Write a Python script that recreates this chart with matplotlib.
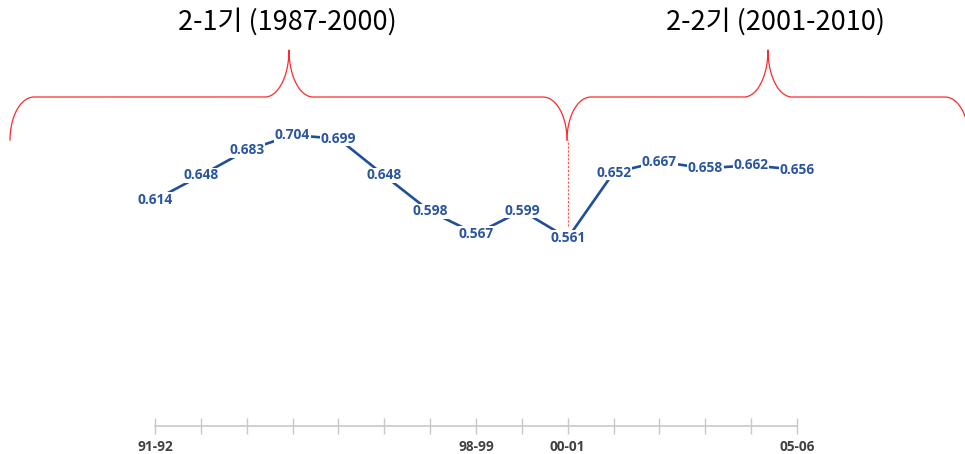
import numpy as np
import matplotlib
matplotlib.use("Agg")
import matplotlib.pyplot as plt

# ---- data ----
periods = ["91-92", "92-93", "93-94", "94-95", "95-96", "96-97", "97-98", "98-99",
           "99-00", "00-01", "01-02", "02-03", "03-04", "04-05", "05-06"]
values = [0.614, 0.648, 0.683, 0.704, 0.699, 0.648, 0.598, 0.567, 0.599, 0.561,
          0.652, 0.667, 0.658, 0.662, 0.656]
shown_ticklabels = {"91-92", "98-99", "00-01", "05-06"}
phase_labels = ["2-1기 (1987-2000)", "2-2기 (2001-2010)"]
split_period = "00-01"

W, H = 965, 454
fig = plt.figure(figsize=(W / 100, H / 100), dpi=100)

# overlay in pixel coords for braces
ov = fig.add_axes([0, 0, 1, 1])
ov.set_xlim(0, W)
ov.set_ylim(H, 0)
ov.axis("off")

# main axes: index 0 at px 155, index 14 at px 797; y 0.3 at px 426, 720 px/unit
x_left, x_right = 155, 797
y_bot_px = 426
ymin, ymax = 0.3, 0.72
y_top_px = y_bot_px - (ymax - ymin) * 720
ax = fig.add_axes([x_left / W, (H - y_bot_px) / H, (x_right - x_left) / W,
                   (y_bot_px - y_top_px) / H])
ax.patch.set_alpha(0)
ax.set_xlim(0, len(periods) - 1)
ax.set_ylim(ymin, ymax)

x = np.arange(len(periods))
blue = "#1F4E9B"
ax.plot(x, values, color=blue, lw=1.9, solid_capstyle="round", zorder=2, clip_on=False)
for xi, v in zip(x, values):
    ax.text(xi, v, f"{v:.3f}", ha="center", va="center", fontsize=9.9,
            fontweight="bold", color="#2A55A0", family="Open Sans", zorder=3,
            bbox=dict(boxstyle="square,pad=0.05", fc="white", ec="none"))

for s in ["top", "right", "left"]:
    ax.spines[s].set_visible(False)
ax.spines["bottom"].set_color("#C8C8C8")
ax.spines["bottom"].set_linewidth(1.2)
ax.set_yticks([])
ax.set_xticks(x)
ax.set_xticklabels([p if p in shown_ticklabels else "" for p in periods])
ax.tick_params(axis="x", direction="inout", length=12, width=1.0, color="#C8C8C8",
               pad=4, labelsize=9.8, labelcolor="#404040")
for lab in ax.get_xticklabels():
    lab.set_fontweight("bold")
    lab.set_family("Open Sans")

# dashed split line
split_idx = periods.index(split_period)
ax.vlines(split_idx, 0.578, 0.697, colors="#FF5050", linestyles=(0, (2, 1.5)), lw=0.8)

# braces
red = "#FF2A2A"
def brace(x0, x1, xp, ybase=97, yend=140, ytop=50, r=24):
    t = np.linspace(0, np.pi / 2, 40)
    xs, ys = [], []
    xs += list(x0 + r - r * np.cos(t)); ys += list(yend - (yend - ybase) * np.sin(t))
    xs += list(xp - r + r * np.sin(t)); ys += list(ytop + (ybase - ytop) * np.cos(t))
    t2 = t[::-1]
    xs += list(xp + r - r * np.sin(t2)); ys += list(ytop + (ybase - ytop) * np.cos(t2))
    xs += list(x1 - r + r * np.sin(t)); ys += list(yend - (yend - ybase) * np.cos(t))
    ov.plot(xs, ys, color=red, lw=0.9)

brace(10, 567, 289)
brace(567, 969, 768)

ov.text(287, 22, phase_labels[0], ha="center", va="center", fontsize=19.5,
        family=["Noto Sans CJK KR", "DejaVu Sans"], color="black")
ov.text(776, 22, phase_labels[1], ha="center", va="center", fontsize=19.5,
        family=["Noto Sans CJK KR", "DejaVu Sans"], color="black")

fig.savefig("out.png", dpi=100)
